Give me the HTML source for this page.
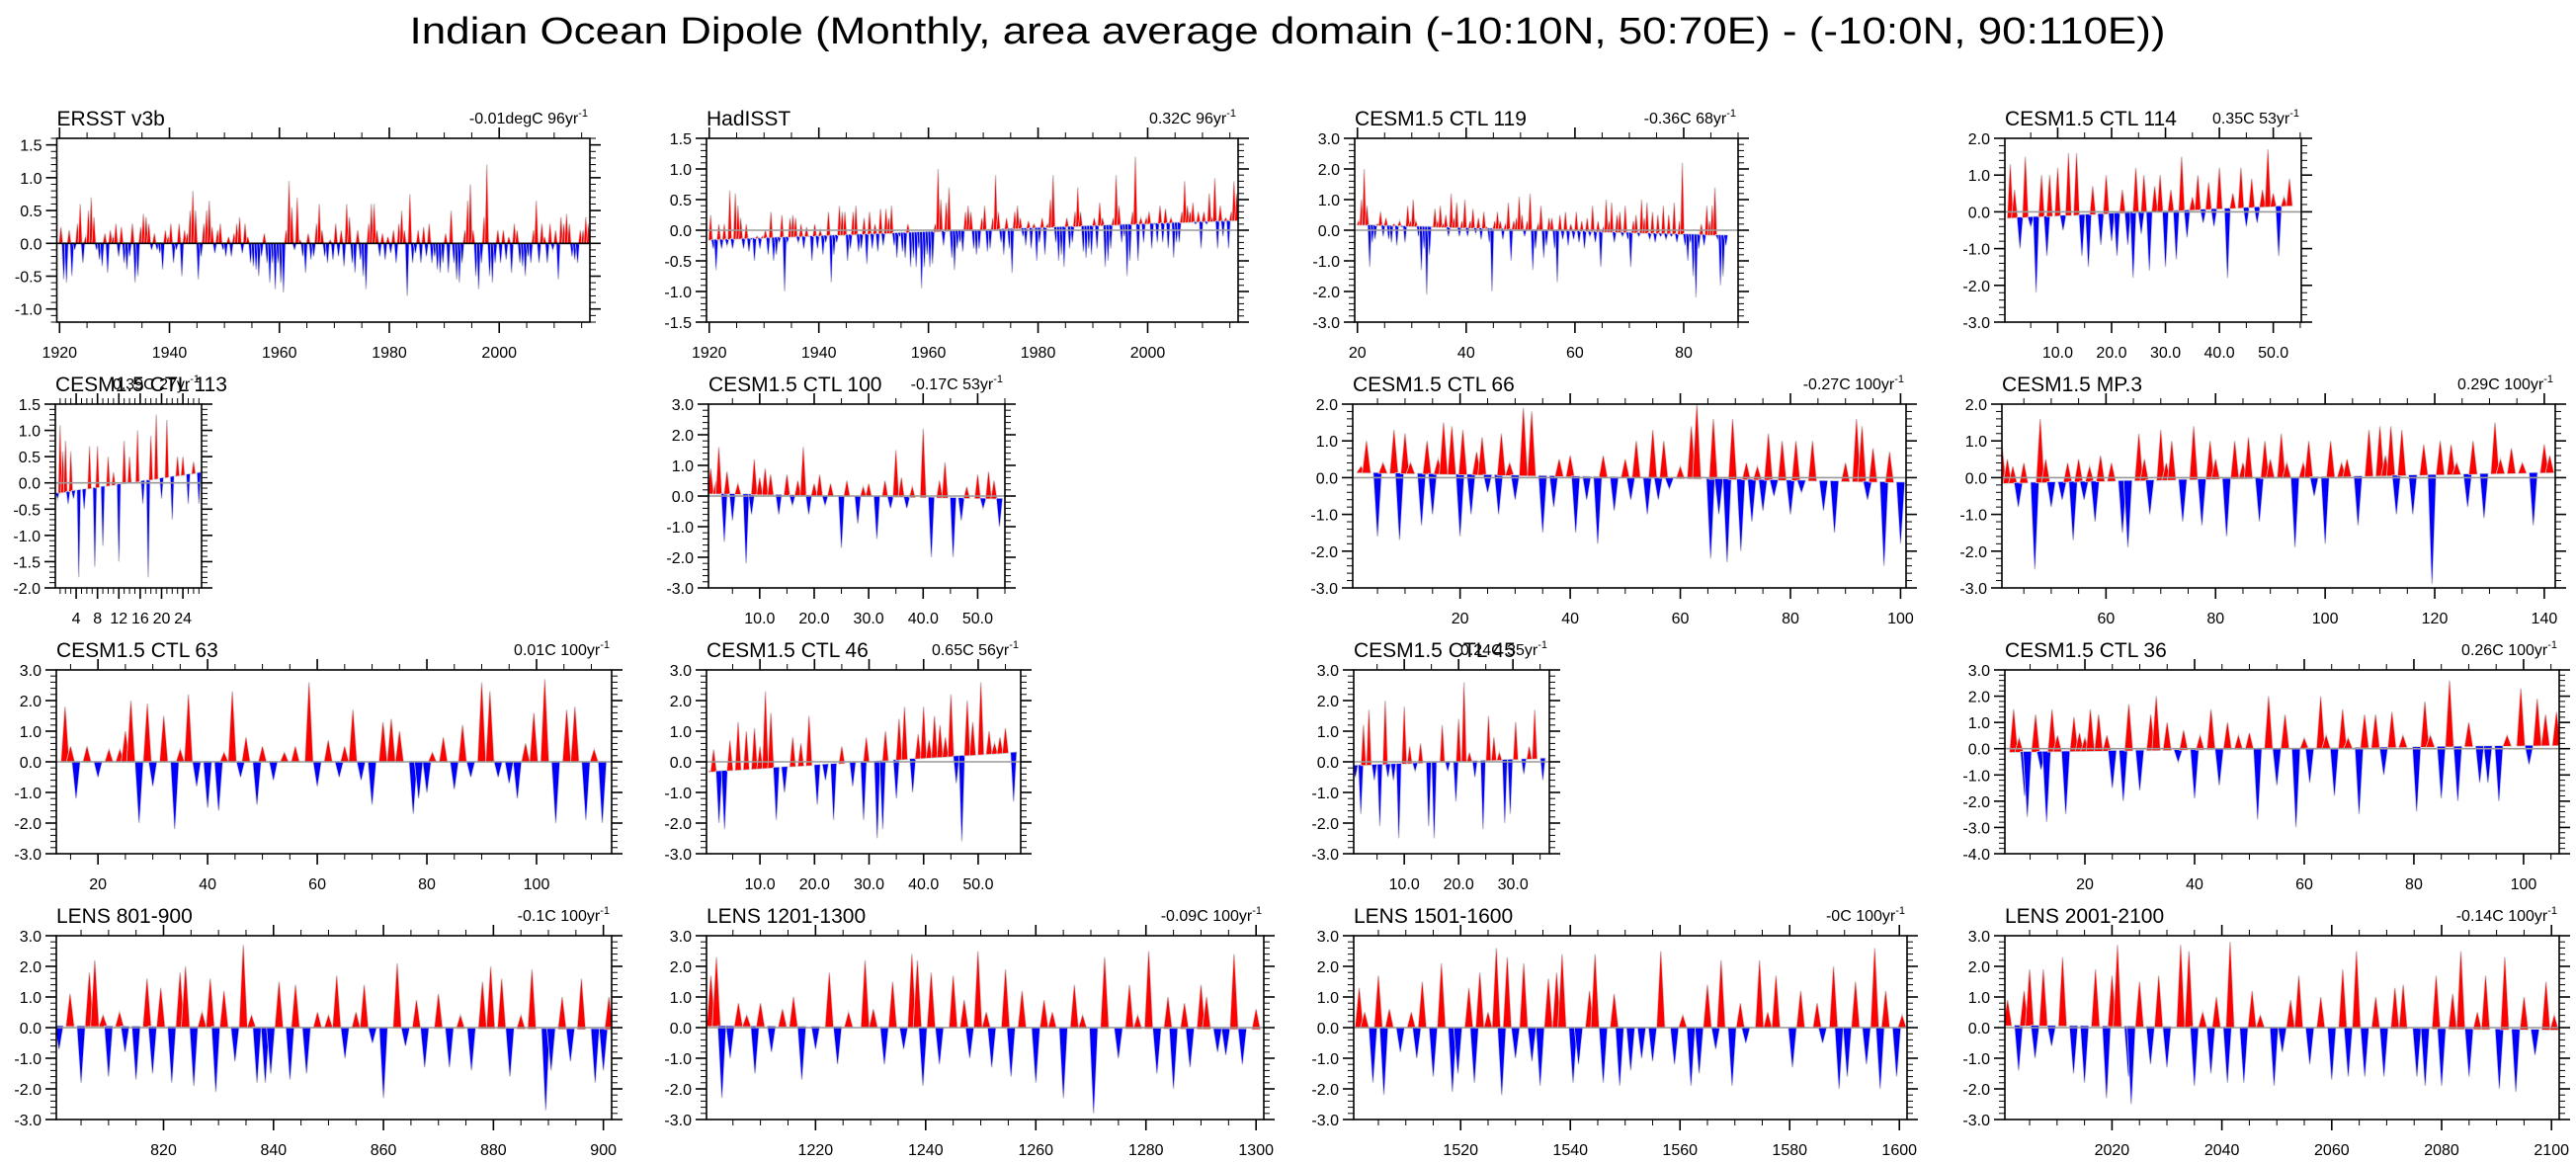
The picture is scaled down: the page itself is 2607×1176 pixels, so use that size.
<!DOCTYPE html>
<html><head><meta charset="utf-8"><title>Indian Ocean Dipole</title>
<style>
html,body{margin:0;padding:0;background:#fff;}
svg{display:block;font-family:"Liberation Sans",Arial,sans-serif;}
</style></head>
<body>
<svg id="chart" width="2607" height="1176" viewBox="0 0 2607 1176" xmlns="http://www.w3.org/2000/svg">
<rect x="0" y="0" width="2607" height="1176" fill="#fff"/>
<text x="1303" y="44" font-size="38" text-anchor="middle" textLength="1777" lengthAdjust="spacingAndGlyphs">Indian Ocean Dipole (Monthly, area average domain (-10:10N, 50:70E) - (-10:0N, 90:110E))</text>
<g id="panels"></g>
</svg>
<script>
// ---------- data: half-yearly series (regular) ----------
const ersstVals = [0.25,-0.55,-0.6,0.2,-0.5,-0.1,0.3,0.6,-0.3,0.1,0.5,0.7,0.4,-0.1,-0.25,-0.35,0.15,-0.45,0.2,0.1,0.3,-0.2,0.25,-0.3,-0.4,-0.2,0.3,-0.6,-0.5,0.25,0.45,0.4,0.3,-0.1,0.15,-0.1,-0.15,-0.4,0.2,0.1,0.3,-0.3,-0.1,0.3,-0.5,0.2,0.15,0.5,0.8,0.5,-0.55,-0.2,0.3,0.5,0.65,0.25,-0.15,0.2,0.3,-0.1,-0.2,0.1,-0.2,0.15,0.3,0.4,-0.15,0.3,0.1,-0.3,-0.35,-0.4,-0.5,-0.2,0.15,-0.3,-0.6,-0.3,-0.7,-0.3,-0.6,-0.75,0.2,0.95,0.55,-0.1,0.7,0.05,-0.2,-0.45,0.15,-0.25,-0.2,0.3,0.6,0.2,-0.2,-0.3,0.05,-0.25,0.3,-0.2,0.2,-0.35,0.6,0.4,-0.3,-0.45,0.2,-0.25,-0.5,-0.7,0.3,0.6,0.6,0.2,-0.2,0.15,-0.25,0.1,-0.15,0.2,-0.3,0.3,0.5,0.2,-0.8,0.75,-0.3,-0.15,0.2,-0.3,0.25,-0.2,0.3,-0.3,-0.2,-0.4,-0.45,-0.3,0.15,-0.45,0.5,-0.3,-0.55,-0.6,-0.3,0.2,0.65,0.9,0.2,-0.5,-0.7,-0.3,0.4,1.2,-0.5,-0.6,-0.3,0.2,-0.3,0.2,-0.25,0.1,-0.45,0.3,0.2,-0.3,-0.35,-0.5,-0.2,-0.3,0.2,0.65,-0.3,0.3,0.1,-0.3,0.3,-0.1,0.2,-0.55,0.4,0.3,0.45,0.3,-0.2,-0.25,-0.3,0.2,0.2,0.4,0.3,0.1];
const hadVals = [0.25,-0.3,-0.65,0.1,-0.3,0.1,-0.25,0.65,-0.3,0.6,0.4,0.2,-0.3,0.1,-0.35,-0.15,-0.5,-0.1,-0.3,-0.1,0.0,-0.4,0.3,-0.5,-0.4,-0.2,0.25,-1.0,-0.2,0.2,0.25,0.2,-0.2,0.1,-0.3,0.05,-0.1,-0.5,0.1,-0.3,0.0,-0.4,-0.2,0.3,-0.85,-0.4,-0.2,0.4,0.3,0.3,-0.5,-0.3,0.3,0.4,-0.35,-0.3,0.2,-0.55,0.3,-0.3,0.1,-0.35,0.35,-0.25,0.35,0.2,0.4,-0.25,-0.45,-0.1,-0.35,-0.45,0.1,-0.6,-0.45,-0.6,-0.3,-0.95,-0.6,-0.4,-0.6,-0.55,0.1,1.0,0.5,-0.25,0.45,0.7,-0.45,-0.65,-0.3,-0.2,-0.35,0.3,0.4,0.3,-0.3,-0.4,-0.3,0.2,0.4,-0.35,-0.3,0.2,0.9,0.3,-0.2,-0.4,0.2,-0.3,-0.7,0.3,0.4,0.2,-0.1,-0.25,0.15,-0.3,0.1,-0.5,-0.2,0.2,-0.4,0.1,0.5,0.9,-0.2,-0.5,-0.4,-0.6,0.2,-0.3,-0.2,0.3,0.7,0.3,-0.35,-0.45,-0.3,-0.4,0.2,-0.3,0.45,0.2,-0.6,-0.5,-0.3,0.2,0.9,0.4,-0.2,-0.1,-0.75,-0.5,0.3,1.2,-0.5,0.2,-0.2,0.2,0.3,-0.3,0.1,-0.2,0.4,-0.2,0.35,-0.3,0.2,-0.45,-0.2,-0.2,0.3,0.8,0.4,0.3,0.45,0.1,0.3,-0.3,0.3,0.1,0.6,0.2,0.85,-0.3,0.4,-0.1,0.2,-0.3,0.3,0.8,0.6,0.2];
const ctl119Vals = [0.3,1.0,2.0,0.8,-1.2,-0.4,-0.3,0.2,0.6,-0.2,0.4,-0.3,-0.4,0.2,-0.5,0.3,0.1,-0.4,0.8,0.3,1.0,0.3,-0.2,-1.3,-0.6,-2.1,-0.8,0.1,0.7,0.3,0.8,0.2,0.5,-0.2,1.2,0.4,0.9,-0.2,0.3,1.0,-0.2,0.3,0.7,-0.1,0.4,-0.3,0.6,0.1,-0.4,-2.0,0.3,0.6,0.3,-0.3,0.2,0.9,-1.0,0.3,0.4,1.1,0.5,-0.2,0.3,1.2,-1.3,-0.6,0.2,0.8,-0.9,-0.5,0.4,0.4,-0.6,-1.7,0.5,-0.3,0.6,-0.5,0.2,-0.3,0.6,-0.4,0.3,-0.6,0.4,-0.2,0.8,-0.4,0.3,-1.2,0.1,1.0,0.3,0.9,-0.4,0.5,0.6,-0.2,0.8,-0.3,-1.2,0.3,0.5,-0.2,1.0,0.4,0.9,-0.3,0.6,-0.4,0.5,-0.2,0.8,-0.3,0.5,-0.2,0.9,-0.4,0.3,2.2,-0.5,-1.0,-0.4,-1.5,-2.2,-0.6,0.2,-0.5,0.8,0.3,0.8,1.4,-0.3,-1.8,-1.5,-0.5];

// ---------- data: event peaks (time, value) ----------
const ctl114Times = [1.2,2,3,4,5,6,7,8,8.5,10,11,12,13.5,14.5,15.7,16.5,18,19,20,21,22,23,24,24.5,25.5,26,27,28,29,30,31,32,33,34,35,36,37,38,39,40,41.5,42.5,44,45,46,47,48,49,50,51,52,53];
const ctl114Vals  = [1.3,0.6,-1.0,1.5,-0.4,-2.2,1.0,-1.2,1.0,1.2,-0.5,1.6,1.6,-1.2,-1.5,0.7,-0.9,1.0,-0.8,-1.2,0.6,-0.9,-1.8,1.2,-0.6,1.0,-1.6,0.7,1.0,-1.5,0.6,-1.3,1.5,-0.7,0.4,1.0,-0.3,0.8,-0.4,1.2,-1.8,0.5,1.2,-0.4,0.9,-0.3,0.6,1.7,0.5,-1.2,0.4,0.9];
const ctl113Times = [0.5,1,1.5,2,2.5,3,3.5,4.5,5.5,6.5,7.5,8,9,10,11,12,13,14,15.5,16.5,17.5,18,19,20,21,22,23,24,25,26,27];
const ctl113Vals  = [-0.3,1.1,0.6,0.8,-0.4,0.6,-0.3,-1.8,-0.5,0.7,-1.6,0.7,-1.2,0.5,0.2,-1.5,0.8,0.5,1.0,-0.4,-1.8,0.9,1.3,-0.3,1.2,-0.7,0.5,0.5,-0.4,0.4,-0.4];
const ctl100Times = [1,2,2.5,3.5,4,5,6,7.5,8.5,9,10,11,12,13.5,15,16,17,18,19,20,21,22,23,25,26,28,29,30,31.5,33,34,35,36,37,38,40,41.5,43,44,45.5,47,48,50,51,52,53,54];
const ctl100Vals  = [0.9,0.5,1.6,-1.5,0.8,-0.8,0.4,-2.2,-0.6,1.2,0.6,0.9,0.7,-0.6,0.7,-0.3,0.5,1.6,-0.6,0.4,0.7,-0.3,0.4,-1.7,0.5,-0.9,0.3,0.4,-1.4,0.5,-0.4,1.5,0.6,-0.4,0.3,2.2,-2.0,0.5,1.1,-2.0,-0.8,0.3,0.7,-0.4,0.8,0.5,-1.0];
const ctl66Times = [2,3,5,6,8,9,10,11,13,14,15,16,17,18.5,20,20.5,22,23,24,25,27,27.5,29,30,31.5,33,35,37,38,40,41,43,45,46,48,50,51,52,54,55,56,57,58,60,62,63,65.5,66,67,68.5,69.5,71,72,73,74,75,76,77,78.5,80,81,82,84,86,88,90,92,93,94,95,97,98,100];
const ctl66Vals  = [0.3,1.0,-1.6,0.4,1.3,-1.7,1.2,0.4,-1.3,1.0,-1.0,0.5,1.5,1.4,-1.6,1.3,-1.0,0.7,1.1,-0.4,-1.0,1.2,0.4,-0.6,1.9,1.8,-1.5,-0.8,0.5,0.6,-1.5,-0.6,-1.8,0.6,-0.9,0.5,-0.6,1.0,-1.0,1.3,-0.6,1.0,-0.3,0.3,1.4,2.0,-2.2,1.6,-1.0,-2.3,1.6,-2.0,0.4,-1.2,0.3,-0.9,1.2,-0.5,1.0,-1.0,1.0,-0.4,1.0,-0.9,-1.5,0.4,1.6,1.4,-0.6,0.8,-2.4,0.7,-1.8];
const mp3Times = [41,42,43,44,45,47,48,49,50,52,53,54,55,56,57,58,59,61,63,64,66,67,68,70,71,72,74,76,77.5,79,80,82,83.5,85,86,88,89,90,92,93,94.5,96,97,98,100,101,103,104,106,108,110,111,112,113,114,116,118,119.5,121,123,124,126,127,129,131,132,134,136,138,140,141];
const mp3Vals  = [0.9,0.5,0.3,-0.8,0.4,-2.5,1.6,0.5,-0.8,-0.6,0.4,-1.7,0.5,-0.6,0.3,-1.2,0.6,0.4,-1.5,-1.9,1.2,0.5,-1.0,1.3,0.4,1.0,-1.2,1.4,-1.3,1.0,0.5,-1.6,1.0,0.4,1.1,-1.2,1.0,0.5,1.2,0.4,-1.9,0.4,1.0,-0.5,-1.8,1.0,0.4,0.5,-1.3,1.3,1.4,0.6,1.4,-1.0,1.3,-1.0,0.9,-2.9,1.0,0.9,0.4,-0.8,1.0,-1.1,1.5,0.5,0.8,0.4,-1.3,0.9,0.6];
const ctl63Times = [14,15,16,18,20,22,24,25,26,27.5,29,30,32,34,35,36.5,38,40,42,43,44.5,46,47,49,50,52,54,56,58.5,60,62,64,65,66.5,68,70,72,73.5,75,77.5,78.5,80,81,83,85,86.5,88,90,91.5,93,95,96.5,98,99.5,101.5,103.5,105.5,107,109,110.5,112];
const ctl63Vals  = [1.8,0.5,-1.2,0.5,-0.5,0.4,0.4,1.0,2.0,-2.0,1.9,-0.8,1.5,-2.2,0.4,2.2,-0.8,-1.5,-1.6,0.3,2.3,-0.5,0.8,-1.4,0.5,-0.6,0.3,0.5,2.6,-0.8,0.7,-0.5,0.5,1.7,-0.6,-1.4,1.3,1.4,1.0,-1.7,-1.2,-1.0,0.3,0.8,-0.9,1.2,-0.5,2.6,2.3,-0.5,-0.7,-1.2,0.6,1.6,2.7,-2.0,1.7,1.8,-1.9,0.4,-2.0];
const ctl46Times = [1,1.5,2.5,3.5,4.5,6,7.5,9,10,11,12,13,14.5,16,17.5,19,20.5,22,23.5,25,27,29,29.5,31.5,32.5,33,35,35.5,36.5,38,39,40,41,42,43,44,45,46,47,48,49,50.5,52,53,54,55,56.5];
const ctl46Vals  = [-0.3,0.4,-2.0,-2.2,0.7,1.3,1.0,1.1,0.5,2.3,1.6,-1.9,-1.0,0.8,0.6,1.5,-1.4,-0.6,-1.9,0.5,-0.8,-1.9,0.8,-2.5,-2.2,1.0,-1.2,1.4,1.8,-1.0,0.9,1.8,0.7,1.5,1.2,0.8,2.2,-0.7,-2.6,2.0,1.3,2.6,1.0,0.6,0.8,1.1,-1.3];
const ctl45Times = [1,2,2.5,3.5,4.5,5.5,6.5,7,8,9,10,11,12,13,14.5,15.5,17,18,19.5,20,21,22,23,24.5,25.5,26.5,27.5,28.5,29.5,30.5,32,33,34,35.5];
const ctl45Vals  = [-0.5,-1.7,1.2,1.7,-0.6,-2.1,2.0,-0.5,-0.6,-2.5,1.8,0.5,-0.3,0.6,-2.1,-2.5,1.2,-0.3,-1.3,1.4,2.6,0.3,-0.5,-2.2,1.5,0.8,0.3,-2.0,-1.7,1.3,-0.4,0.5,1.7,-0.6];
const ctl36Times = [7,8,9,9.5,11,12,13,14,15,16.5,18,19,20,21,22.5,24,25,27,28,30,32,33,35,37,38,40,41,43,44.5,46,48,50,51.5,53.5,55,56.5,58.5,60,61,63,64,65.5,67,68,70,71,73,74.5,76,78,80.5,82,83,85,86.5,88,90,92,93.5,95.5,97,99.5,101,102.5,104,106];
const ctl36Vals  = [1.5,0.4,-1.8,-2.6,1.3,-0.8,-2.8,1.5,0.5,-2.5,1.2,0.6,0.4,1.5,1.3,0.5,-1.5,-2.0,1.7,-1.6,1.3,2.0,1.0,-0.5,0.7,-1.9,0.5,1.5,-1.4,1.0,0.5,0.6,-2.7,2.0,-1.4,1.3,-3.0,0.4,-1.3,2.0,0.5,-1.8,1.5,0.4,-2.5,1.3,1.3,-1.0,1.4,0.5,-2.4,1.8,0.5,-1.9,2.6,-2.0,1.0,-1.3,-1.3,-2.0,0.5,2.3,-0.6,1.9,1.3,1.4];
const lens801Times = [801,803,805,806.5,807.5,809,810,812,813,815,817,818,819.5,821.5,823,824,825.5,827,828.5,829.5,831,833,834.5,836,837,838.5,839.5,841,843,844,846,848,850,851.5,853,855,856.5,858,860,862.5,864,866,867.5,870,872,874,876,878,879.5,881.5,883,885,887,889.5,890.5,892.5,894,896,898.5,900,901];
const lens801Vals  = [-0.7,1.1,-1.8,1.8,2.2,0.4,-1.6,0.5,-0.8,-1.7,1.6,-1.5,1.3,-1.8,1.8,2.0,-1.9,0.5,1.6,-2.1,1.2,-1.1,2.7,0.4,-1.8,-1.8,-1.5,1.5,-1.7,1.4,-1.5,0.5,0.4,1.7,-1.0,0.5,1.4,-0.5,-2.3,2.1,-0.6,0.9,-1.3,1.1,-1.3,0.4,-1.4,1.5,2.0,1.6,-1.6,0.4,1.9,-2.7,-1.4,1.0,-1.1,1.6,-1.8,-1.4,1.0];
const lens1201Times = [1201,1202,1203,1204.5,1206,1207.5,1209,1210,1212,1214,1216,1217.5,1220,1222.5,1224,1226,1229,1230.5,1232.5,1234,1236,1237.5,1238.5,1239.5,1241,1242.5,1245,1247,1248,1249.5,1251,1252,1254.5,1255.5,1257.5,1260,1261.5,1263,1265,1267,1268.5,1270.5,1272.5,1275,1277,1278.5,1280.5,1282,1284,1285,1287,1288,1290,1291,1293,1294.5,1296,1297.5,1300];
const lens1201Vals  = [1.7,2.3,-2.3,-1.0,0.8,0.4,-1.5,0.8,-0.8,0.6,1.0,-1.7,-0.7,1.8,-1.2,0.5,2.2,0.6,-1.2,1.5,-0.7,2.4,2.2,-1.9,1.8,-1.2,1.7,0.9,-1.0,2.5,0.5,-1.3,1.9,-1.6,1.2,-1.8,0.9,0.5,-2.3,1.4,0.4,-2.8,2.3,-1.0,1.4,0.4,2.5,-1.5,1.0,-2.0,0.8,-1.3,1.4,1.0,-0.8,-0.9,2.4,-1.2,0.6];
const lens1501Times = [1501.5,1502.5,1504,1505,1506,1507,1509,1511,1512,1513,1515,1516.5,1518.5,1519.5,1521.5,1522.5,1523.5,1525,1526.5,1527.5,1528.5,1530,1531.5,1533,1534.5,1536,1537.5,1538.5,1540.5,1541.5,1543.5,1544.5,1546,1548,1549,1551,1553,1555,1556.5,1559,1560.5,1562,1563.5,1565,1566.5,1567.5,1569.5,1571,1572,1574.5,1576,1577.5,1580.5,1582,1585,1586,1588,1589,1590.5,1592,1594,1595.5,1596.5,1597.5,1599.5,1600.5];
const lens1501Vals  = [1.3,0.5,-1.8,1.7,-2.2,0.6,-0.8,0.5,-1.0,1.5,-1.6,2.1,-2.1,-1.5,1.3,-1.8,1.8,0.5,2.6,-2.2,2.3,-1.0,2.1,-1.1,-1.9,1.6,1.8,2.4,-1.8,-1.2,1.2,2.4,-1.8,1.1,-1.9,-1.4,-1.0,-1.1,2.5,-1.2,0.4,-1.9,-1.5,1.4,-0.7,2.2,-1.9,0.8,-0.5,2.2,0.5,1.7,-1.3,1.2,0.8,-0.5,2.0,-2.0,-1.6,1.5,-1.2,2.6,-2.0,1.2,-1.6,0.4];
const lens2001Times = [2001,2003,2004,2005,2006,2007.5,2009,2011,2013,2015,2017,2019,2020,2021,2023,2023.5,2025,2027,2028.5,2030,2032.5,2034,2035,2036.5,2038,2039,2041,2041.5,2044,2045.5,2047,2049.5,2051,2052.5,2054,2056,2058,2060,2062,2063,2064.5,2066,2068,2069.5,2071.5,2073,2075.5,2077,2079,2080,2082,2083.5,2085,2086.5,2088,2090.5,2091.5,2093.5,2095,2097,2099,2100.5];
const lens2001Vals  = [0.9,-1.4,1.2,1.9,-1.0,1.9,-0.6,2.3,-1.5,-1.8,1.9,-2.3,1.7,2.7,-1.6,-2.5,1.5,-1.2,1.7,-1.3,2.7,2.5,-1.9,0.5,-1.5,1.0,-1.8,2.8,-1.8,1.2,0.4,-1.9,-0.8,0.9,1.7,-1.2,1.0,-1.7,1.9,-1.6,2.5,-1.6,1.0,-1.6,1.3,1.4,-1.6,-1.9,1.7,-1.9,1.1,2.5,-1.6,0.5,1.7,-2.0,2.3,-2.1,1.0,-0.9,1.5,0.4];

// ---------- panel layout ----------
const rowTops = [140, 409, 678, 947];
const boxH = 186;
const panels = [
 {key:'ersst',title:'ERSST v3b',note:'-0.01degC 96yr',row:0,L:57.5,R:597,xmin:1919.5,xmax:2016.5,ymin:-1.2,ymax:1.6,ymaj:0.5,ymn:0.1,xmaj:20,xmn:5,xdec:0,trend:[0.005,-0.005],vals:ersstVals,start:1920.25,w:0.3,zc:'#000'},
 {key:'hadisst',title:'HadISST',note:'0.32C 96yr',row:0,L:715,R:1253,xmin:1919.5,xmax:2016.5,ymin:-1.5,ymax:1.5,ymaj:0.5,ymn:0.1,xmaj:20,xmn:5,xdec:0,trend:[-0.16,0.16],vals:hadVals,start:1920.25,w:0.3},
 {key:'ctl119',title:'CESM1.5 CTL 119',note:'-0.36C 68yr',row:0,L:1371,R:1759,xmin:19.5,xmax:90,ymin:-3,ymax:3,ymaj:1,ymn:0.2,xmaj:20,xmn:5,xdec:0,trend:[0.18,-0.18],vals:ctl119Vals,start:20.25,w:0.3},
 {key:'ctl114',title:'CESM1.5 CTL 114',note:'0.35C 53yr',row:0,L:2029,R:2329,xmin:0.2,xmax:55.2,ymin:-3,ymax:2,ymaj:1,ymn:0.2,xmaj:10,xmn:5,xdec:1,trend:[-0.17,0.18],times:ctl114Times,vals:ctl114Vals,w:0.5},
 {key:'ctl113',title:'CESM1.5 CTL 113',note:'0.39C 27yr',row:1,L:56,R:204,xmin:0.1,xmax:27.5,ymin:-2,ymax:1.5,ymaj:0.5,ymn:0.1,xmaj:4,xmn:1,xdec:0,trend:[-0.2,0.2],times:ctl113Times,vals:ctl113Vals,w:0.3},
 {key:'ctl100',title:'CESM1.5 CTL 100',note:'-0.17C 53yr',row:1,L:717,R:1017,xmin:0.6,xmax:55,ymin:-3,ymax:3,ymaj:1,ymn:0.2,xmaj:10,xmn:5,xdec:1,trend:[0.08,-0.09],times:ctl100Times,vals:ctl100Vals,w:0.5},
 {key:'ctl66',title:'CESM1.5 CTL 66',note:'-0.27C 100yr',row:1,L:1369,R:1929,xmin:0.5,xmax:101,ymin:-3,ymax:2,ymaj:1,ymn:0.2,xmaj:20,xmn:5,xdec:0,trend:[0.14,-0.13],times:ctl66Times,vals:ctl66Vals,w:0.7},
 {key:'mp3',title:'CESM1.5 MP.3',note:'0.29C 100yr',row:1,L:2026,R:2586,xmin:41,xmax:142,ymin:-3,ymax:2,ymaj:1,ymn:0.2,xmaj:20,xmn:5,xdec:0,trend:[-0.15,0.14],times:mp3Times,vals:mp3Vals,w:0.7},
 {key:'ctl63',title:'CESM1.5 CTL 63',note:'0.01C 100yr',row:2,L:57,R:619,xmin:12.4,xmax:113.7,ymin:-3,ymax:3,ymaj:1,ymn:0.2,xmaj:20,xmn:5,xdec:0,trend:[0,0],times:ctl63Times,vals:ctl63Vals,w:0.7},
 {key:'ctl46',title:'CESM1.5 CTL 46',note:'0.65C 56yr',row:2,L:715,R:1033,xmin:0.2,xmax:57.8,ymin:-3,ymax:3,ymaj:1,ymn:0.2,xmaj:10,xmn:5,xdec:1,trend:[-0.33,0.32],times:ctl46Times,vals:ctl46Vals,w:0.5},
 {key:'ctl45',title:'CESM1.5 CTL 45',note:'0.24C 35yr',row:2,L:1370,R:1568,xmin:0.7,xmax:36.7,ymin:-3,ymax:3,ymaj:1,ymn:0.2,xmaj:10,xmn:5,xdec:1,trend:[-0.12,0.12],times:ctl45Times,vals:ctl45Vals,w:0.4},
 {key:'ctl36',title:'CESM1.5 CTL 36',note:'0.26C 100yr',row:2,L:2029,R:2590,xmin:5.4,xmax:106.5,ymin:-4,ymax:3,ymaj:1,ymn:0.2,xmaj:20,xmn:5,xdec:0,trend:[-0.13,0.13],times:ctl36Times,vals:ctl36Vals,w:0.7},
 {key:'lens801',title:'LENS 801-900',note:'-0.1C 100yr',row:3,L:57,R:619,xmin:800.5,xmax:901.5,ymin:-3,ymax:3,ymaj:1,ymn:0.2,xmaj:20,xmn:5,xdec:0,trend:[0.05,-0.05],times:lens801Times,vals:lens801Vals,w:0.7},
 {key:'lens1201',title:'LENS 1201-1300',note:'-0.09C 100yr',row:3,L:715,R:1279,xmin:1200.2,xmax:1301.4,ymin:-3,ymax:3,ymaj:1,ymn:0.2,xmaj:20,xmn:5,xdec:0,trend:[0.05,-0.05],times:lens1201Times,vals:lens1201Vals,w:0.7},
 {key:'lens1501',title:'LENS 1501-1600',note:'-0C 100yr',row:3,L:1370,R:1930,xmin:1500.5,xmax:1601.4,ymin:-3,ymax:3,ymaj:1,ymn:0.2,xmaj:20,xmn:5,xdec:0,trend:[0,0],times:lens1501Times,vals:lens1501Vals,w:0.7},
 {key:'lens2001',title:'LENS 2001-2100',note:'-0.14C 100yr',row:3,L:2029,R:2590,xmin:2000.5,xmax:2101.4,ymin:-3,ymax:3,ymaj:1,ymn:0.2,xmaj:20,xmn:5,xdec:0,trend:[0.07,-0.07],times:lens2001Times,vals:lens2001Vals,w:0.7}
];

const NS = 'http://www.w3.org/2000/svg';
const root = document.getElementById('panels');
function mk(tag, attrs, parent){
  const e = document.createElementNS(NS, tag);
  for (const k in attrs) e.setAttribute(k, attrs[k]);
  if (parent) parent.appendChild(e);
  return e;
}
function eps(a){ return Math.round(a*1e6)/1e6; }

panels.forEach(function(p){
  const T = rowTops[p.row], B = T + boxH;
  const xs = function(v){ return p.L + (v - p.xmin) / (p.xmax - p.xmin) * (p.R - p.L); };
  const ys = function(v){ return B - (v - p.ymin) / (p.ymax - p.ymin) * boxH; };
  const trend = function(t){ return p.trend[0] + (p.trend[1]-p.trend[0]) * (t - p.xmin) / (p.xmax - p.xmin); };

  const g = mk('g', {}, root);
  
  

  const cid = 'clip-' + p.key;
  const cp = mk('clipPath', {id: cid}, g);
  mk('rect', {x:p.L, y:T, width:p.R-p.L, height:boxH}, cp);

  const sg = mk('g', {'clip-path':'url(#'+cid+')'}, g);
  
  
  const n = p.vals.length;
  for (let i = 0; i < n; i++){
    const t = p.times ? p.times[i] : p.start + i * 0.5;
    const v = p.vals[i];
    const b0 = trend(t - p.w), b1 = trend(t + p.w), bm = trend(t);
    const pts = xs(t-p.w)+','+ys(b0)+' '+xs(t)+','+ys(v)+' '+xs(t+p.w)+','+ys(b1);
    const halo = mk('polygon', {points: pts, fill:'#d0d0d0', stroke:'#cfcfcf', 'stroke-width':'1.6', 'stroke-linejoin':'miter'}, sg);
    
    
    const sp = mk('polygon', {points: pts, fill: v >= bm ? '#ff0000' : '#0000ff'}, sg);
    
    
  }
  const zl = mk('line', {x1:p.L, x2:p.R, y1:ys(0), y2:ys(0), stroke: p.zc || '#999', 'stroke-width':'1.6'}, g);
  
  

  const fr = mk('rect', {x:p.L, y:T, width:p.R-p.L, height:boxH, fill:'none', stroke:'#000', 'stroke-width':'1.6'}, g);
  
  

  const yMinorStart = Math.ceil(eps(p.ymin / p.ymn)) * p.ymn;
  for (let v = yMinorStart; v <= p.ymax + 1e-9; v += p.ymn){
    const vv = eps(v);
    const major = Math.abs(vv/p.ymaj - Math.round(vv/p.ymaj)) < 1e-6;
    const len = major ? 11 : 6;
    const y = ys(vv);
    mk('line', {x1:p.L-len, x2:p.L, y1:y, y2:y, stroke:'#000', 'stroke-width': major?'1.6':'1'}, g);
    mk('line', {x1:p.R, x2:p.R+len, y1:y, y2:y, stroke:'#000', 'stroke-width': major?'1.6':'1'}, g);
    if (major){
      const lb = mk('text', {x:p.L-15, y:y+6, 'font-size':'16', 'text-anchor':'end'}, g);
      lb.textContent = vv.toFixed(1);
      
      
    }
  }
  const xStart = Math.ceil(eps(p.xmin / p.xmn)) * p.xmn;
  for (let v = xStart; v <= p.xmax + 1e-9; v += p.xmn){
    const vv = eps(v);
    const major = Math.abs(vv/p.xmaj - Math.round(vv/p.xmaj)) < 1e-6;
    const len = major ? 11 : 6;
    const x = xs(vv);
    mk('line', {x1:x, x2:x, y1:B, y2:B+len, stroke:'#000', 'stroke-width': major?'1.6':'1'}, g);
    mk('line', {x1:x, x2:x, y1:T-len, y2:T, stroke:'#000', 'stroke-width': major?'1.6':'1'}, g);
    if (major){
      const lb = mk('text', {x:x, y:B+36, 'font-size':'16', 'text-anchor':'middle'}, g);
      lb.textContent = vv.toFixed(p.xdec);
      
      
    }
  }
  const tt = mk('text', {x:p.L, y:T-13, 'font-size':'21'}, g);
  tt.textContent = p.title;
  
  
  const nt = mk('text', {x:p.R-2, y:T-15, 'font-size':'16', 'text-anchor':'end'}, g);
  
  
  const s1 = mk('tspan', {}, nt); s1.textContent = p.note;
  const s2 = mk('tspan', {dy:'-7', 'font-size':'11'}, nt); s2.textContent = '-1';
});
</script>
</body></html>
